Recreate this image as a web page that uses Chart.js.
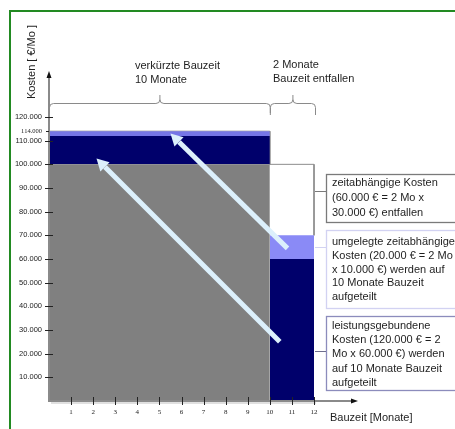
<!DOCTYPE html>
<html>
<head>
<meta charset="utf-8">
<script src="https://cdn.jsdelivr.net/npm/chart.js@4.4.0/dist/chart.umd.min.js"></script>
<style>
  html, body { margin: 0; padding: 0; background: #fff; }
  canvas { display: block; }
</style>
</head>
<body>
<canvas id="c" width="455" height="429"></canvas>
<script>
// Month ticks (x) and cost ticks (y)
const monthTicks = [1, 2, 3, 4, 5, 6, 7, 8, 9, 10, 11, 12];
const costTicks = [10000, 20000, 30000, 40000, 50000, 60000, 70000, 80000, 90000, 100000, 110000, 120000];
const markedCost = 114000;

// Phase boundaries in months: start, end of shortened schedule, end of original schedule
const phaseMonths = [0, 10, 12];

// Stacked monthly cost levels over the shortened 10 months:
// base costs, performance-related share, re-allocated time-dependent share
const shortenedLevels = [100000, 112000, 114000];

// Stacked monthly cost levels in the 2 dropped months:
// performance-related, re-allocated time-dependent, dropped time-dependent
const droppedLevels = [60000, 70000, 100000];

// Arrows from the dropped months to the shortened months: [month, cost]
const arrowFrom = [[10.45, 25000], [10.8, 64500]];
const arrowTo = [[2.15, 102500], [5.5, 113000]];

const phaseLabels = [
  ['verkürzte Bauzeit', '10 Monate'],
  ['2 Monate', 'Bauzeit entfallen']
];
const yTitle = 'Kosten [ €/Mo ]';
const xTitle = 'Bauzeit [Monate]';
const noteTexts = [
  ['zeitabhängige Kosten', '(60.000 € = 2 Mo x', '30.000 €) entfallen'],
  ['umgelegte zeitabhängige', 'Kosten (20.000 € = 2 Mo', 'x 10.000 €) werden auf', '10 Monate Bauzeit', 'aufgeteilt'],
  ['leistungsgebundene', 'Kosten (120.000 € = 2', 'Mo x 60.000 €) werden', 'auf 10 Monate Bauzeit', 'aufgeteilt']
];

const fmt = v => String(v).replace(/\B(?=(\d{3})+(?!\d))/g, '.');
const seg = (x0, x1, yv) => [{ x: x0, y: yv }, { x: x1, y: yv }];

const GRAY = '#808080', NAVY = '#00006b', LIGHT = '#7676e6', LILAC = '#8a8af6';
const SANS = '"Liberation Sans", Arial, sans-serif';
const SERIF = '"Liberation Serif", "Times New Roman", serif';

const area = (data, fill, color) => ({
  data, fill, backgroundColor: color, borderWidth: 0, pointRadius: 0, tension: 0
});

const datasets = [
  area(seg(phaseMonths[0], phaseMonths[1], shortenedLevels[0]), 'origin', GRAY),
  area(seg(phaseMonths[0], phaseMonths[1], shortenedLevels[1]), { value: shortenedLevels[0] }, NAVY),
  area(seg(phaseMonths[0], phaseMonths[1], shortenedLevels[2]), { value: shortenedLevels[1] }, LIGHT),
  area(seg(phaseMonths[1], phaseMonths[2], droppedLevels[0]), 'origin', NAVY),
  area(seg(phaseMonths[1], phaseMonths[2], droppedLevels[1]), { value: droppedLevels[0] }, LILAC),
  {
    // outline of the upper band and of the dropped time-dependent block
    data: [
      { x: phaseMonths[0], y: shortenedLevels[2] },
      { x: phaseMonths[1], y: shortenedLevels[2] },
      { x: phaseMonths[1], y: droppedLevels[2] },
      { x: phaseMonths[2], y: droppedLevels[2] },
      { x: phaseMonths[2], y: droppedLevels[1] }
    ],
    fill: false, borderColor: '#8c8c8c', borderWidth: 1, pointRadius: 0, tension: 0, clip: false
  }
];

function arrow(ctx, x0, y0, x1, y1) {
  const ang = Math.atan2(y1 - y0, x1 - x0);
  const len = 12, half = 6.5;
  const bx = x1 - Math.cos(ang) * len, by = y1 - Math.sin(ang) * len;
  ctx.save();
  ctx.strokeStyle = '#dcf0fc';
  ctx.fillStyle = '#dcf0fc';
  ctx.lineWidth = 5;
  ctx.lineCap = 'butt';
  ctx.beginPath();
  ctx.moveTo(x0, y0);
  ctx.lineTo(bx, by);
  ctx.stroke();
  ctx.beginPath();
  ctx.moveTo(x1, y1);
  ctx.lineTo(bx + Math.sin(ang) * half, by - Math.cos(ang) * half);
  ctx.lineTo(bx - Math.sin(ang) * half, by + Math.cos(ang) * half);
  ctx.closePath();
  ctx.fill();
  ctx.restore();
}

function brace(ctx, x0, x1, yLine, yEnd, yTip) {
  const xm = (x0 + x1) / 2, r = 4;
  ctx.beginPath();
  ctx.moveTo(x0, yEnd);
  ctx.lineTo(x0, yLine + r);
  ctx.quadraticCurveTo(x0, yLine, x0 + r, yLine);
  ctx.lineTo(xm - r, yLine);
  ctx.quadraticCurveTo(xm, yLine, xm, yLine - r);
  ctx.lineTo(xm, yTip);
  ctx.moveTo(xm, yLine - r);
  ctx.quadraticCurveTo(xm, yLine, xm + r, yLine);
  ctx.lineTo(x1 - r, yLine);
  ctx.quadraticCurveTo(x1, yLine, x1, yLine + r);
  ctx.lineTo(x1, yEnd);
  ctx.stroke();
}

const decor = {
  id: 'decor',
  beforeDatasetsDraw(chart) {
    // soft drop shadow under the cost blocks
    const { ctx, scales: { x, y } } = chart;
    const l = x.getPixelForValue(phaseMonths[0]), r = x.getPixelForValue(phaseMonths[2]);
    const b = y.getPixelForValue(0);
    ctx.save();
    ctx.fillStyle = 'rgba(0,0,0,0.12)';
    ctx.fillRect(l + 2, b, r - l, 3);
    ctx.restore();
  },
  afterDraw(chart) {
    const { ctx, scales: { x, y } } = chart;
    ctx.save();

    // arrows
    arrowFrom.forEach((p, i) => {
      const q = arrowTo[i];
      arrow(ctx, x.getPixelForValue(p[0]), y.getPixelForValue(p[1]),
                 x.getPixelForValue(q[0]), y.getPixelForValue(q[1]));
    });

    // axes with arrow heads
    const x0 = x.getPixelForValue(0), y0 = y.getPixelForValue(0);
    ctx.strokeStyle = '#8a8a8a';
    ctx.lineWidth = 2;
    ctx.beginPath();
    ctx.moveTo(x0, y0 + 1);
    ctx.lineTo(x0, 76);
    ctx.moveTo(x0 - 1, y0);
    ctx.lineTo(353, y0);
    ctx.stroke();
    ctx.fillStyle = '#111';
    ctx.beginPath();
    ctx.moveTo(x0, 71); ctx.lineTo(x0 - 2.5, 78); ctx.lineTo(x0 + 2.5, 78); ctx.closePath(); ctx.fill();
    ctx.beginPath();
    ctx.moveTo(358, y0); ctx.lineTo(351, y0 - 2.5); ctx.lineTo(351, y0 + 2.5); ctx.closePath(); ctx.fill();

    // tick marks crossing the axes
    ctx.strokeStyle = '#222';
    ctx.lineWidth = 1;
    ctx.beginPath();
    costTicks.forEach(v => {
      const py = Math.round(y.getPixelForValue(v)) + 0.5;
      ctx.moveTo(x0 - 4, py); ctx.lineTo(x0 + 4, py);
    });
    const pm = Math.round(y.getPixelForValue(markedCost)) + 0.5;
    ctx.moveTo(x0 - 3, pm); ctx.lineTo(x0, pm);
    monthTicks.forEach(v => {
      const px = Math.round(x.getPixelForValue(v)) + 0.5;
      ctx.moveTo(px, y0 - 4); ctx.lineTo(px, y0 + 4);
    });
    ctx.stroke();

    // braces over the two phases
    ctx.strokeStyle = '#8a8a8a';
    ctx.lineWidth = 1;
    brace(ctx, x.getPixelForValue(phaseMonths[0]) + 0.5, x.getPixelForValue(phaseMonths[1]) + 0.5, 103.5, 113, 95);
    brace(ctx, x.getPixelForValue(phaseMonths[1]) + 0.5, x.getPixelForValue(phaseMonths[2]) + 1.5, 103.5, 115, 95);

    // texts
    ctx.fillStyle = '#1e1e1e';
    ctx.font = '11px ' + SANS;
    ctx.textAlign = 'left';
    ctx.textBaseline = 'middle';
    phaseLabels[0].forEach((t, i) => ctx.fillText(t, 135, 66 + i * 14));
    phaseLabels[1].forEach((t, i) => ctx.fillText(t, 273, 65 + i * 14));
    ctx.fillText(xTitle, 330, 418);

    ctx.save();
    ctx.translate(32, 62);
    ctx.rotate(-Math.PI / 2);
    ctx.textAlign = 'center';
    ctx.fillText(yTitle, 0, 0);
    ctx.restore();

    // note boxes with connectors
    const xr = x.getPixelForValue(phaseMonths[2]) + 1;
    const boxes = [
      { top: 174.5, bottom: 222.5, link: 191.5, color: '#7a7a7a', linkColor: '#7a7a7a', first: 183, step: 15 },
      { top: 230.5, bottom: 308.5, link: 247.5, color: '#d2d2f2', linkColor: '#d2d2f2', first: 242, step: 13.8 },
      { top: 316.5, bottom: 390.5, link: 351.5, color: '#8c8cbc', linkColor: '#6e6e8e', first: 326, step: 14.2 }
    ];
    boxes.forEach((b, i) => {
      ctx.lineWidth = 1.3;
      ctx.strokeStyle = b.color;
      ctx.strokeRect(326.5, b.top, 140, b.bottom - b.top);
      ctx.lineWidth = 1;
      ctx.strokeStyle = b.linkColor;
      ctx.beginPath();
      ctx.moveTo(xr, b.link); ctx.lineTo(326, b.link);
      ctx.stroke();
      ctx.fillStyle = '#1e1e1e';
      noteTexts[i].forEach((t, k) => ctx.fillText(t, 332, b.first + k * b.step));
    });

    // frame
    ctx.strokeStyle = '#228a22';
    ctx.lineWidth = 2;
    ctx.beginPath();
    ctx.moveTo(10, 429);
    ctx.lineTo(10, 11);
    ctx.lineTo(455, 11);
    ctx.stroke();

    ctx.restore();
  }
};

new Chart(document.getElementById('c'), {
  type: 'line',
  data: { datasets },
  options: {
    responsive: false,
    animation: false,
    devicePixelRatio: 1,
    layout: { padding: { top: 117, right: 141, left: 0, bottom: 0 } },
    plugins: { legend: { display: false }, tooltip: { enabled: false } },
    scales: {
      x: {
        type: 'linear', min: 0, max: 12,
        border: { display: false },
        grid: { display: false, drawTicks: false },
        afterBuildTicks: s => { s.ticks = monthTicks.map(v => ({ value: v })); },
        afterFit: s => { s.height = 28; },
        ticks: {
          autoSkip: false, maxRotation: 0, padding: 7,
          color: '#222', font: { family: SERIF, size: 7 },
          callback: v => String(v)
        }
      },
      y: {
        type: 'linear', min: 0, max: 120000,
        border: { display: false },
        grid: { display: false, drawTicks: false },
        afterBuildTicks: s => {
          s.ticks = [...costTicks, markedCost].sort((p, q) => p - q).map(v => ({ value: v }));
        },
        afterFit: s => { s.width = 49; },
        ticks: {
          autoSkip: false, padding: 7,
          color: '#222',
          font: c => (c.tick && c.tick.value === markedCost)
            ? { family: SERIF, size: 6.5 }
            : { family: SANS, size: 7.5 },
          callback: v => fmt(v)
        }
      }
    }
  },
  plugins: [decor]
});
</script>
</body>
</html>
